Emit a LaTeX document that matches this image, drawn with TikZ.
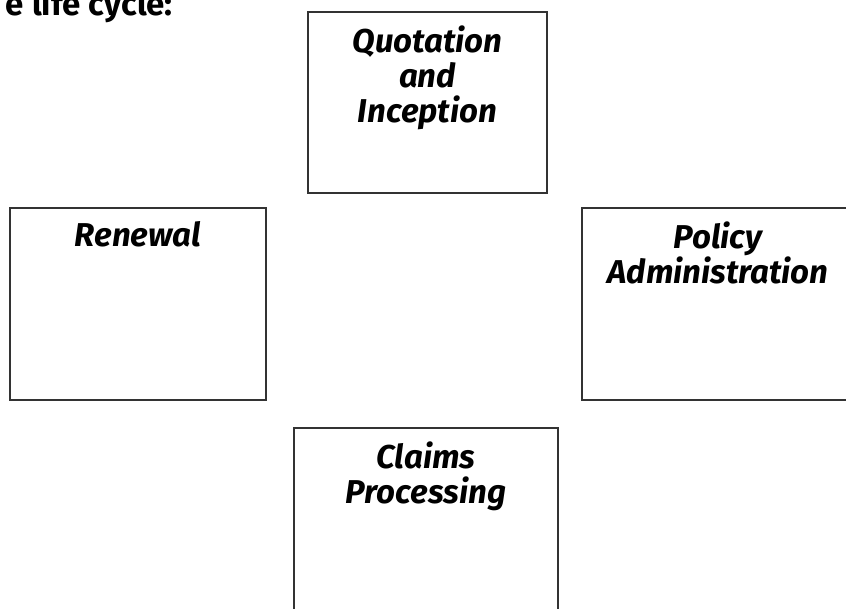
\documentclass[tikz,border=0pt]{standalone}
\usepackage{fontspec}
\setmainfont{Fira Sans}
\usetikzlibrary{positioning}

\tikzset{
  stage/.style={draw=black!80, line width=1.2pt, inner sep=0pt},
  stagetext/.style={font=\fontsize{33}{35}\selectfont\bfseries\itshape,
    align=center, inner sep=0pt, anchor=north},
}

\begin{document}
\begin{tikzpicture}[x=1pt, y=-1pt]
    \useasboundingbox (0,0) rectangle (846,609);
    \clip (0,0) rectangle (846,609);
    % heading, cut off at the left
    \node[font=\fontsize{33}{35}\selectfont\bfseries, anchor=base east, inner sep=0pt]
      (title) at (173,16) {e life cycle:};
    % the four stages
    \node[stage, minimum width=239pt, minimum height=181pt] (quot) at (427.5,102.5) {};
    \node[stage, minimum width=256pt, minimum height=192pt] (renew) at (138,304) {};
    \node[stage, minimum width=272pt, minimum height=192pt] (admin) at (718,304) {};
    \node[stage, minimum width=264pt, minimum height=200pt] (claims) at (426,528) {};
    % their titles
    \node[stagetext, below=14pt of quot.north] (quotT) {Quotation\\and\\Inception};
    \node[stagetext, below=14pt of renew.north] (renewT) {Renewal};
    \node[stagetext, below=14pt of admin.north] (adminT) {Policy\\Administration};
    \node[stagetext, below=14pt of claims.north] (claimsT) {Claims\\Processing};
\end{tikzpicture}
\end{document}
